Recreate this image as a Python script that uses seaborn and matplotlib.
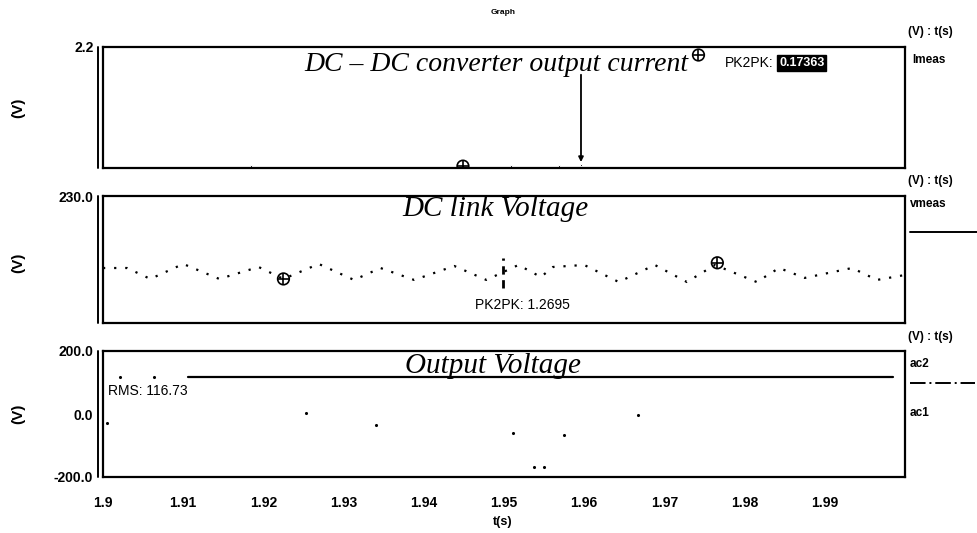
import matplotlib
matplotlib.use("Agg")
import matplotlib.pyplot as plt
from matplotlib.lines import Line2D
import seaborn as sns
import pandas as pd

# ---------------- data ----------------
x_ticks = [1.90, 1.91, 1.92, 1.93, 1.94, 1.95, 1.96, 1.97, 1.98, 1.99]
x_tick_labels = ["1.9", "1.91", "1.92", "1.93", "1.94", "1.95", "1.96", "1.97", "1.98", "1.99"]

# Panel 1: DC-DC converter output current (Imeas)
imeas_t = [1.9184, 1.9509, 1.9568, 1.9596]
imeas_v = [2.0139, 2.0139, 2.0139, 2.0160]
imeas_cursor_t = [1.94488, 1.97425]
imeas_cursor_v = [2.0139, 2.1875]
imeas_pk2pk = "0.17363"

# Panel 2: DC link voltage (vmeas)
vlink_t = [1.9000, 1.9030, 1.9059, 1.9100, 1.9145, 1.9194, 1.9225, 1.9269, 1.9313,
           1.9346, 1.9388, 1.9438, 1.9478, 1.9518, 1.9546, 1.9561, 1.9600, 1.9643,
           1.9688, 1.9728, 1.9763, 1.9815, 1.9843, 1.9875, 1.9934, 1.9965, 2.0000]
vlink_v = [224.33, 224.33, 223.47, 224.65, 223.47, 224.41, 223.47, 224.65, 223.39,
           224.33, 223.39, 224.49, 223.39, 224.57, 223.62, 224.41, 224.57, 223.23,
           224.57, 223.23, 224.57, 223.23, 224.33, 223.55, 224.33, 223.39, 223.78]
vlink_cursor_t = [1.9225, 1.9766]
vlink_cursor_v = [223.47, 224.74]
vlink_pk2pk = "1.2695"
vlink_mark_t = [1.9499, 1.9499]
vlink_mark_v = [225.12, 222.76]

# Panel 3: Output voltage (ac1 visible samples, ac2 RMS level)
ac1_t = [1.9005, 1.92525, 1.9340, 1.95113, 1.95375, 1.9550, 1.9575, 1.96675]
ac1_v = [-28.6, 3.0, -35.0, -60.0, -168.0, -168.0, -67.0, -3.0]
ac2_t = [1.9106, 1.9985]
ac2_v = [116.73, 116.73]
ac2_dots_t = [1.9021, 1.9063]
ac2_dots_v = [118.0, 116.73]
rms_value = "116.73"

# ---------------- figure ----------------
sns.set_theme(style="white")
plt.rcParams["font.family"] = ["Liberation Sans", "DejaVu Sans"]
plt.rcParams["axes.edgecolor"] = "black"

W, H = 977, 533
fig = plt.figure(figsize=(W / 100, H / 100), dpi=100)
fig.patch.set_facecolor("white")


def fx(x):
    return x / W


def fy(y):
    return 1 - y / H


left, right = 103, 905
ax1 = fig.add_axes([fx(left), fy(168), (right - left) / W, (168 - 47) / H])
ax2 = fig.add_axes([fx(left), fy(323), (right - left) / W, (323 - 196) / H])
ax3 = fig.add_axes([fx(left), fy(477), (right - left) / W, (477 - 351) / H])

for ax in (ax1, ax2, ax3):
    ax.set_facecolor("white")
    ax.set_xlim(1.9, 2.0)
    for s in ax.spines.values():
        s.set_color("black")
        s.set_linewidth(1.6)
    ax.plot([-0.006, -0.006], [0, 1], transform=ax.transAxes, color="black",
            lw=1.4, clip_on=False)
    ax.tick_params(axis="y", direction="out", length=4, width=1.2, colors="black",
                   labelsize=10, pad=3)
    ax.set_xlabel("")
    ax.set_ylabel("")

for ax in (ax1, ax2):
    ax.set_xticks([])

# Panel 1
ax1.set_ylim(2.011, 2.2)
ax1.set_yticks([2.2])
ax1.set_yticklabels(["2.2"])
sns.lineplot(x=imeas_t, y=imeas_v, ax=ax1, color="black", linestyle="none",
             marker=".", markersize=3, estimator=None)
sns.scatterplot(x=imeas_cursor_t, y=imeas_cursor_v, ax=ax1, marker="o", s=70,
                facecolors="none", edgecolor="black", linewidth=1.2, zorder=5)
sns.scatterplot(x=imeas_cursor_t, y=imeas_cursor_v, ax=ax1, marker="+", s=70,
                color="black", linewidth=1.2, zorder=5)
ax1.annotate("", xy=(1.9596, imeas_cursor_v[0] + 0.002), xytext=(1.9596, 2.161),
             arrowprops=dict(arrowstyle="-|>", color="black", lw=1.3, mutation_scale=7))

# Panel 2
ax2.set_ylim(220.0, 230.0)
ax2.set_yticks([230.0])
ax2.set_yticklabels(["230.0"])
sns.lineplot(x=vlink_t, y=vlink_v, ax=ax2, color="black", linestyle=(0, (1, 4)),
             linewidth=1.6, estimator=None, sort=False)
sns.scatterplot(x=vlink_cursor_t, y=vlink_cursor_v, ax=ax2, marker="o", s=70,
                facecolors="none", edgecolor="black", linewidth=1.2, zorder=5)
sns.scatterplot(x=vlink_cursor_t, y=vlink_cursor_v, ax=ax2, marker="+", s=70,
                color="black", linewidth=1.2, zorder=5)
sns.lineplot(x=vlink_mark_t, y=vlink_mark_v, ax=ax2, color="black",
             linestyle=(0, (3, 2)), linewidth=2, estimator=None)

# Panel 3
ax3.set_ylim(-200, 200)
ax3.set_yticks([200, 0, -200])
ax3.set_yticklabels(["200.0", "0.0", "-200.0"])
sns.lineplot(x=ac2_t, y=ac2_v, ax=ax3, color="black", linewidth=1.6, estimator=None)
sns.scatterplot(x=ac2_dots_t, y=ac2_dots_v, ax=ax3, color="black", s=5, linewidth=0)
sns.scatterplot(x=ac1_t, y=ac1_v, ax=ax3, color="black", s=5, linewidth=0)
ax3.set_xticks(x_ticks)
ax3.set_xticklabels(x_tick_labels)
ax3.tick_params(axis="x", direction="out", length=8, width=1.6, colors="black",
                labelsize=10, pad=6)

for ax in (ax1, ax2, ax3):
    for lab in ax.get_yticklabels() + ax.get_xticklabels():
        lab.set_fontweight("bold")
        lab.set_color("black")

# ---------------- text ----------------
title_kw = dict(family=["Liberation Serif", "DejaVu Serif"], style="italic",
                fontsize=21, color="black", ha="center", va="center")
fig.text(fx(496), fy(64), "DC \u2013 DC converter output current",
         **{**title_kw, "fontsize": 20})
fig.text(fx(495), fy(209), "DC link Voltage", **title_kw)
fig.text(fx(493), fy(366), "Output Voltage", **title_kw)

fig.text(fx(503), fy(13), "Graph", fontsize=6, fontweight="bold", ha="center",
         va="center", color="black")

for yy in (108, 263, 414):
    fig.text(fx(18), fy(yy), "(V)", rotation=90, fontsize=11, fontweight="bold",
             ha="center", va="center", color="black")

# cursor measurements
fig.text(fx(774), fy(63), "PK2PK:", fontsize=10, ha="right", va="center", color="black")
fig.text(fx(779), fy(63), imeas_pk2pk, fontsize=9, fontweight="bold", ha="left",
         va="center", color="white",
         bbox=dict(boxstyle="square,pad=0.15", facecolor="black", edgecolor="black"))
fig.text(fx(475), fy(305), "PK2PK: " + vlink_pk2pk, fontsize=10, ha="left",
         va="center", color="black")
fig.text(fx(108), fy(391), "RMS: " + rms_value, fontsize=10, ha="left",
         va="center", color="black")

# right-hand legend area
side_kw = dict(fontsize=8.5, fontweight="bold", ha="left", va="center", color="black")
fig.text(fx(908), fy(32), "(V) : t(s)", **side_kw)
fig.text(fx(912), fy(60), "Imeas", **side_kw)
fig.text(fx(908), fy(181), "(V) : t(s)", **side_kw)
fig.text(fx(910), fy(204), "vmeas", **side_kw)
fig.text(fx(908), fy(337), "(V) : t(s)", **side_kw)
fig.text(fx(910), fy(364), "ac2", **side_kw)
fig.text(fx(910), fy(413), "ac1", **side_kw)
fig.add_artist(Line2D([fx(910), fx(977)], [fy(232), fy(232)], color="black", lw=1.4))
fig.add_artist(Line2D([fx(910), fx(975)], [fy(383), fy(383)], color="black", lw=1.4,
                      linestyle=(0, (8, 2, 1, 2))))

fig.text(fx(503), fy(522), "t(s)", fontsize=9, fontweight="bold", ha="center",
         va="center", color="black")

fig.savefig("out.png", dpi=100, facecolor="white")
